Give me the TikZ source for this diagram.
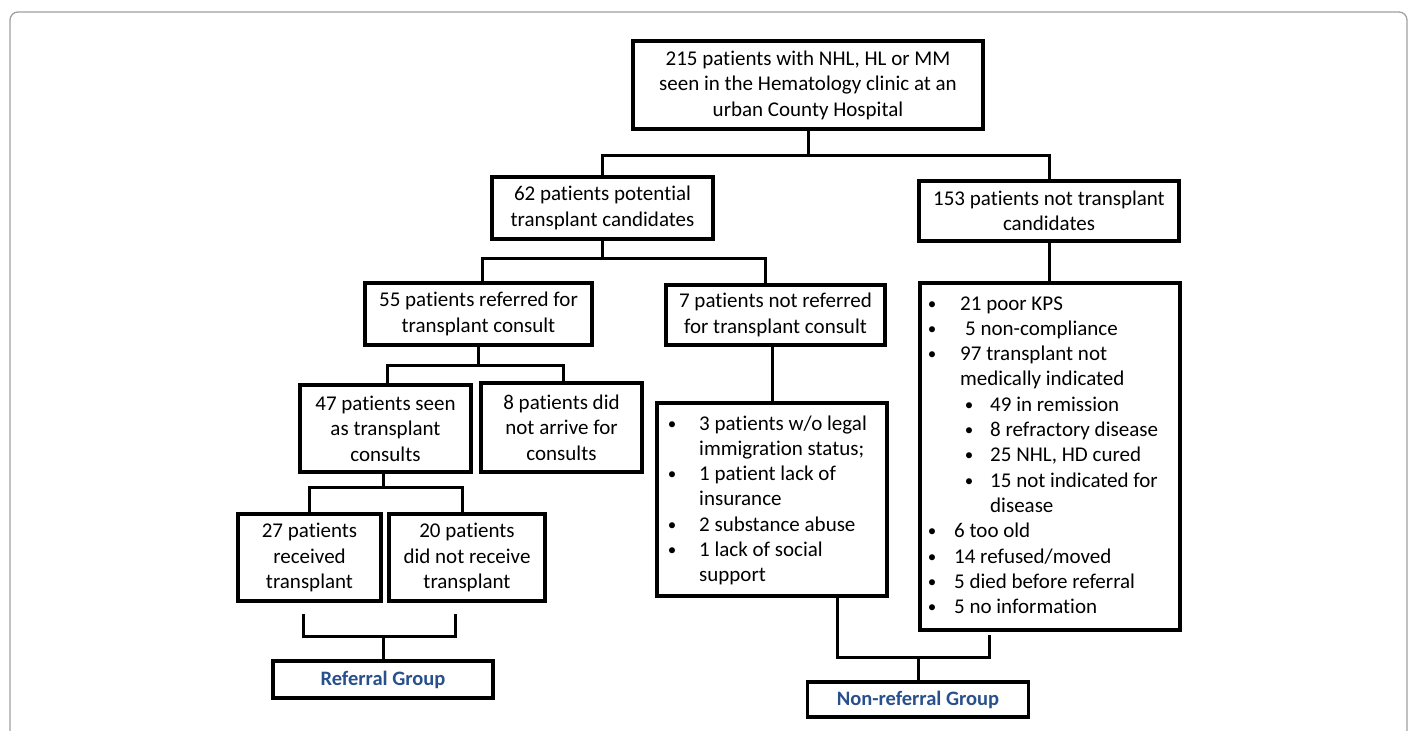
\documentclass[tikz,border=0pt]{standalone}
\usepackage{fontspec}
\setmainfont{Carlito}[Ligatures=NoCommon]
\definecolor{grp}{RGB}{40,80,140}
\tikzset{
 box/.style={draw, line width=3.3pt, inner sep=0pt, align=center, font=\fontsize{21}{25.5}\selectfont},
 conn/.style={line width=3pt, line join=miter},
 lt/.style={anchor=base west, inner sep=0pt, font=\fontsize{21}{25.3}\selectfont},
 bul/.style={anchor=base, inner sep=0pt, font=\fontsize{17}{20}\selectfont, yshift=1pt},
 grpbox/.style={box, text=grp, font=\fontsize{20.5}{25}\selectfont\bfseries},
}
\begin{document}
\begin{tikzpicture}[x=1pt,y=-1pt]
\useasboundingbox (0,0) rectangle (1414,731);
\begin{scope}
\clip (0,0) rectangle (1414,731);
\draw[gray!75, line width=1.3pt, rounded corners=8pt] (10,12) rectangle (1407,770);
\end{scope}

% boxes
\node[box, minimum width=350pt, minimum height=88pt] (top) at (808,85) {215 patients with NHL, HL or MM\\ seen in the Hematology clinic at an\\ urban County Hospital};
\node[box, minimum width=221pt, minimum height=62pt] (cand) at (602.5,208) {62 patients potential\\ transplant candidates};
\node[box, minimum width=260pt, minimum height=60pt] (notc) at (1049,211) {153 patients not transplant\\ candidates};
\node[box, minimum width=227pt, minimum height=62pt] (ref) at (478.5,314) {55 patients referred for\\ transplant consult};
\node[box, minimum width=219pt, minimum height=60pt] (notref) at (775.5,315) {7 patients not referred\\ for transplant consult};
\node[box, minimum width=260pt, minimum height=347pt] (listR) at (1050,456.5) {};
\node[box, minimum width=171pt, minimum height=87pt] (seen) at (385.5,428.5) {47 patients seen\\ as transplant\\ consults};
\node[box, minimum width=161pt, minimum height=89pt] (arrive) at (561.5,427.5) {8 patients did\\ not arrive for\\ consults};
\node[box, minimum width=230pt, minimum height=193pt] (listL) at (772,499.5) {};
\node[box, minimum width=143pt, minimum height=87pt] (recv) at (309.5,557.5) {27 patients\\ received\\ transplant};
\node[box, minimum width=156pt, minimum height=87pt] (notrecv) at (467,557.5) {20 patients\\ did not receive\\ transplant};
\node[grpbox, minimum width=220pt, minimum height=37pt] (refgrp) at (383,679.5) {Referral Group};
\node[grpbox, minimum width=221pt, minimum height=35pt] (nonref) at (918,699.5) {Non-referral Group};

% right list
\node[bul] (rb0) at (932,310) {\textbullet};
\node[lt] (rt0) at (960,310) {21 poor KPS};
\node[bul] (rb1) at (932,335.3) {\textbullet};
\node[lt] (rt1) at (965,335.3) {5 non-compliance};
\node[bul] (rb2) at (932,360.6) {\textbullet};
\node[lt] (rt2) at (960,360.6) {97 transplant not};
\node[lt] (rt3) at (960,385.9) {medically indicated};
\node[bul] (rb4) at (969,411.2) {\textbullet};
\node[lt] (rt4) at (990,411.2) {49 in remission};
\node[bul] (rb5) at (969,436.5) {\textbullet};
\node[lt] (rt5) at (990,436.5) {8 refractory disease};
\node[bul] (rb6) at (969,461.8) {\textbullet};
\node[lt] (rt6) at (990,461.8) {25 NHL, HD cured};
\node[bul] (rb7) at (969,487.1) {\textbullet};
\node[lt] (rt7) at (990,487.1) {15 not indicated for};
\node[lt] (rt8) at (990,512.4) {disease};
\node[bul] (rb9) at (932,537.7) {\textbullet};
\node[lt] (rt9) at (954,537.7) {6 too old};
\node[bul] (rb10) at (932,563) {\textbullet};
\node[lt] (rt10) at (954,563) {14 refused/moved};
\node[bul] (rb11) at (932,588.3) {\textbullet};
\node[lt] (rt11) at (954,588.3) {5 died before referral};
\node[bul] (rb12) at (932,613.6) {\textbullet};
\node[lt] (rt12) at (954,613.6) {5 no information};

% left list
\node[bul] (lb0) at (672,430) {\textbullet};
\node[lt] (lt0) at (699,430) {3 patients w/o legal};
\node[lt] (lt1) at (699,455.3) {immigration status;};
\node[bul] (lb2) at (672,480.6) {\textbullet};
\node[lt] (lt2) at (699,480.6) {1 patient lack of};
\node[lt] (lt3) at (699,505.9) {insurance};
\node[bul] (lb4) at (672,531.2) {\textbullet};
\node[lt] (lt4) at (699,531.2) {2 substance abuse};
\node[bul] (lb5) at (672,556.5) {\textbullet};
\node[lt] (lt5) at (699,556.5) {1 lack of social};
\node[lt] (lt6) at (699,581.8) {support};

% connectors
\coordinate (j1) at (808,155);
\draw[conn] (top.south) -- (j1);
\draw[conn] (cand.north) |- (j1) -| (notc.north);

\coordinate (j2) at (602.5,258);
\draw[conn] (cand.south) -- (j2);
\draw[conn] ([xshift=3.5pt]ref.north) |- (j2) -| ([xshift=-10.5pt]notref.north);

\draw[conn] (notc.south) -- (notc.south |- listR.north);

\coordinate (j3) at (478.5,365);
\draw[conn] (ref.south) -- (j3);
\draw[conn] ([xshift=1.5pt]seen.north) |- (j3) -| ([xshift=1.5pt]arrive.north);

\draw[conn] (notref.south -| listL.north) -- (listL.north);

\coordinate (j4) at (383,487);
\draw[conn] ([xshift=-2.5pt]seen.south) -- (j4);
\draw[conn] (recv.north) |- (j4) -| ([xshift=-5pt]notrecv.north);

\coordinate (j5) at (383,636);
\draw[conn] ([xshift=-6.5pt,yshift=-11pt]recv.south) |- (j5) -| ([xshift=-12pt,yshift=-11pt]notrecv.south);
\draw[conn] (j5) -- (refgrp.north);

\coordinate (j6) at (918,657);
\draw[conn] ([xshift=65pt]listL.south) |- (j6) -| ([xshift=-61pt,yshift=-3pt]listR.south);
\draw[conn] (j6) -- (nonref.north);
\end{tikzpicture}
\end{document}
